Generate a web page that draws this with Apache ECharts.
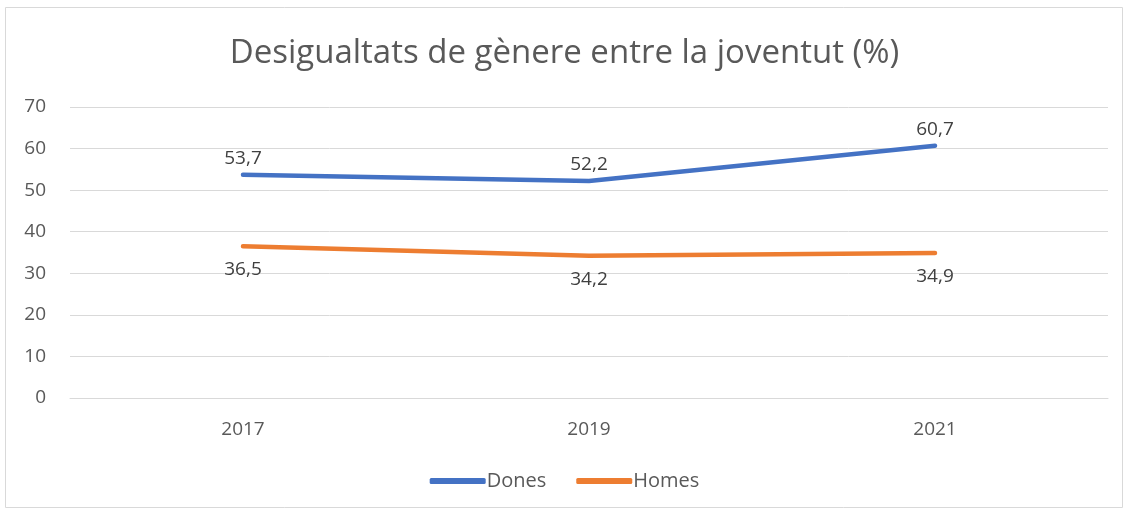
<!DOCTYPE html>
<html><head><meta charset="utf-8">
<script src="https://cdn.jsdelivr.net/npm/echarts@6/dist/echarts.min.js"></script>
<style>html,body{margin:0;padding:0;background:#fff}#c{width:1129px;height:512px}</style>
</head><body><div id="c"></div>
<script>
const categories = ['2017', '2019', '2021'];
const dones = [53.7, 52.2, 60.7];
const homes = [36.5, 34.2, 34.9];
const yTicks = [0, 10, 20, 30, 40, 50, 60, 70];
const titleText = 'Desigualtats de gènere entre la joventut (%)';

const font = 'Open Sans, Liberation Sans, sans-serif';
const chart = echarts.init(document.getElementById('c'));
const fmt = p => String(p.value).replace('.', ',');
chart.setOption({
  animation: false,
  textStyle: { fontFamily: font },
  graphic: [{ type: 'rect', shape: { x: 5.5, y: 7.5, width: 1117, height: 500 }, style: { fill: 'none', stroke: '#d9d9d9', lineWidth: 1 } }],
  title: { text: titleText, left: 'center', top: 32, textStyle: { fontFamily: font, fontSize: 33, fontWeight: 'normal', color: '#595959' } },
  legend: { bottom: 16, left: 'center', itemWidth: 56, itemHeight: 6, itemGap: 30,
    icon: 'roundRect',
    textStyle: { fontFamily: font, fontSize: 20, color: '#595959', padding: [0, 0, 0, -4] },
    data: ['Dones', 'Homes'] },
  grid: { left: 70, right: 21, top: 107, bottom: 114 },
  xAxis: { type: 'category', data: categories, boundaryGap: true,
    axisLine: { lineStyle: { color: '#d9d9d9' } }, axisTick: { show: false },
    axisLabel: { fontFamily: font, fontSize: 19, color: '#595959', margin: 22 } },
  yAxis: { type: 'value', min: yTicks[0], max: yTicks[yTicks.length - 1], interval: 10,
    axisLine: { show: false }, axisTick: { show: false },
    splitLine: { lineStyle: { color: '#d9d9d9', width: 1 } },
    axisLabel: { fontFamily: font, fontSize: 19, color: '#595959', margin: 24 } },
  series: [
    { name: 'Dones', type: 'line', data: dones, symbol: 'circle', symbolSize: 0, showSymbol: true,
      lineStyle: { color: '#4472C4', width: 4.5, cap: 'round', join: 'round' }, itemStyle: { color: '#4472C4' },
      label: { show: true, position: 'top', distance: 7, formatter: fmt, fontFamily: font, fontSize: 19, color: '#404040' } },
    { name: 'Homes', type: 'line', data: homes, symbol: 'circle', symbolSize: 0, showSymbol: true,
      lineStyle: { color: '#ED7D31', width: 4.5, cap: 'round', join: 'round' }, itemStyle: { color: '#ED7D31' },
      label: { show: true, position: 'bottom', distance: 14, formatter: fmt, fontFamily: font, fontSize: 19, color: '#404040' } }
  ]
});
</script></body></html>
